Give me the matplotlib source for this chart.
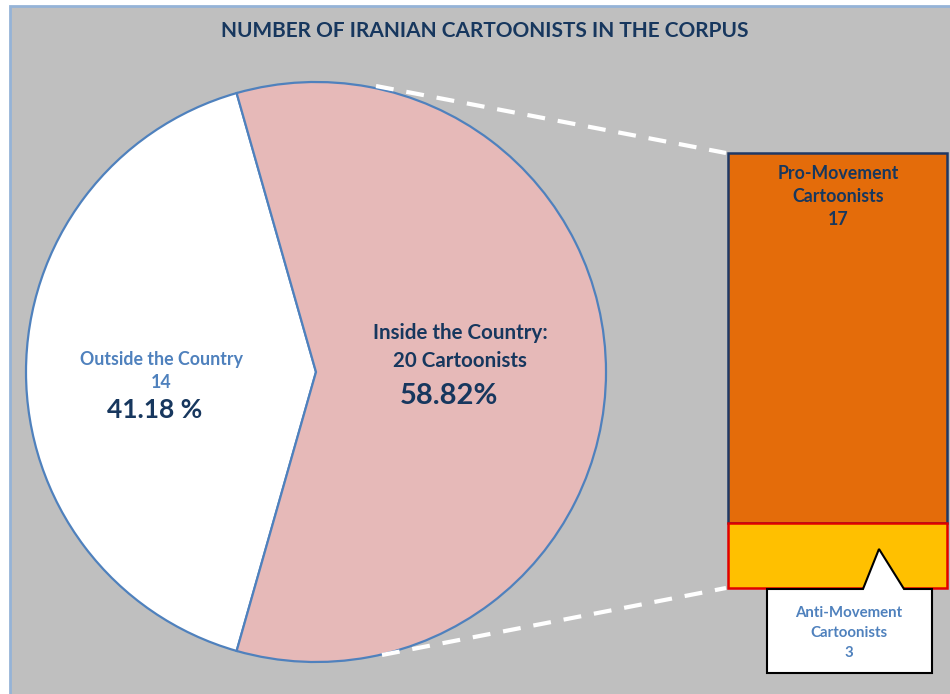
import matplotlib
matplotlib.use("Agg")
import matplotlib.pyplot as plt
from matplotlib.patches import Rectangle, Polygon

plt.rcParams['font.family'] = ['Lato', 'DejaVu Sans']
plt.rcParams['font.weight'] = 'bold'

# data
pie_labels = ["Outside the Country", "Inside the Country"]
pie_counts = [14, 20]
pie_pcts = [41.18, 58.82]
bar_labels = ["Anti-Movement Cartoonists", "Pro-Movement Cartoonists"]
bar_counts = [3, 17]

navy = "#17375E"
blue = "#4F81BD"
W, H = 950, 694

fig = plt.figure(figsize=(9.5, 6.94), dpi=100)
fig.patch.set_facecolor("white")

# background panel (pixel coords)
bg = fig.add_axes([0, 0, 1, 1], zorder=0)
bg.set_xlim(0, W)
bg.set_ylim(H, 0)
bg.axis("off")
bg.add_patch(Rectangle((10, 6), W, H, facecolor="#BFBFBF",
                       edgecolor="#95B3D7", linewidth=2))

# pie
cx, cy, r = 316, 372, 290
pax = fig.add_axes([(cx - r) / W, (H - cy - r) / H, 2 * r / W, 2 * r / H], zorder=1)
half = pie_counts[0] / sum(pie_counts) * 360 / 2
pax.pie(pie_counts, colors=["white", "#E6B9B8"], startangle=180 - half,
        wedgeprops=dict(edgecolor=blue, linewidth=1.6))
pax.set_xlim(-1, 1)
pax.set_ylim(-1, 1)
pax.axis("off")

# stacked bar
bx0, bx1, by0, by1 = 728, 947, 153, 588
bax = fig.add_axes([bx0 / W, (H - by1) / H, (bx1 - bx0) / W, (by1 - by0) / H], zorder=1)
bax.bar(0, bar_counts[0], width=1, color="#FFC000", edgecolor="#E00000",
        linewidth=1.8, clip_on=False, zorder=3)
bax.bar(0, bar_counts[1], width=1, bottom=bar_counts[0], color="#E46C0A",
        edgecolor="#1F3864", linewidth=1.8, clip_on=False, zorder=2)
bax.set_xlim(-0.5, 0.5)
bax.set_ylim(0, sum(bar_counts))
bax.axis("off")

# overlay: lines, callout, text
ov = fig.add_axes([0, 0, 1, 1], zorder=2)
ov.set_xlim(0, W)
ov.set_ylim(H, 0)
ov.axis("off")
ov.patch.set_alpha(0)

dash = dict(color="white", linewidth=3, dashes=(4.3, 3.1), solid_capstyle="butt")
ov.plot([376, 726], [86, 153], **dash)
ov.plot([382, 726], [655, 588], **dash)

callout = Polygon([(767, 589), (863, 589), (879, 549), (904, 589), (932, 589),
                   (932, 673), (767, 673)], closed=True,
                  facecolor="white", edgecolor="black", linewidth=1.5)
ov.add_patch(callout)

ov.text(485, 31, "NUMBER OF IRANIAN CARTOONISTS IN THE CORPUS", ha="center",
        va="center", fontsize=15, color=navy, fontweight="bold")

ov.text(161, 359, pie_labels[0], ha="center", va="center", fontsize=12.8, color=blue)
ov.text(161, 382, str(pie_counts[0]), ha="center", va="center", fontsize=12.8, color=blue)
ov.text(155, 410, f"{pie_pcts[0]:.2f} %", ha="center", va="center", fontsize=19, color=navy)

ov.text(460, 333, pie_labels[1] + ":", ha="center", va="center", fontsize=14.8, color=navy)
ov.text(460, 361, f"{pie_counts[1]} Cartoonists", ha="center", va="center",
        fontsize=14.8, color=navy)
ov.text(449, 396, f"{pie_pcts[1]:.2f}%", ha="center", va="center", fontsize=21, color=navy)

pro = bar_labels[1].split(" ")
ov.text(838, 173, pro[0], ha="center", va="center", fontsize=12.8, color=navy)
ov.text(838, 196, pro[1], ha="center", va="center", fontsize=12.8, color=navy)
ov.text(838, 219, str(bar_counts[1]), ha="center", va="center", fontsize=12.8, color=navy)

anti = bar_labels[0].split(" ")
ov.text(849, 613, anti[0], ha="center", va="center", fontsize=10.8, color=blue)
ov.text(849, 633, anti[1], ha="center", va="center", fontsize=10.8, color=blue)
ov.text(849, 653, str(bar_counts[0]), ha="center", va="center", fontsize=10.8, color=blue)

fig.savefig("out.png", dpi=100)
